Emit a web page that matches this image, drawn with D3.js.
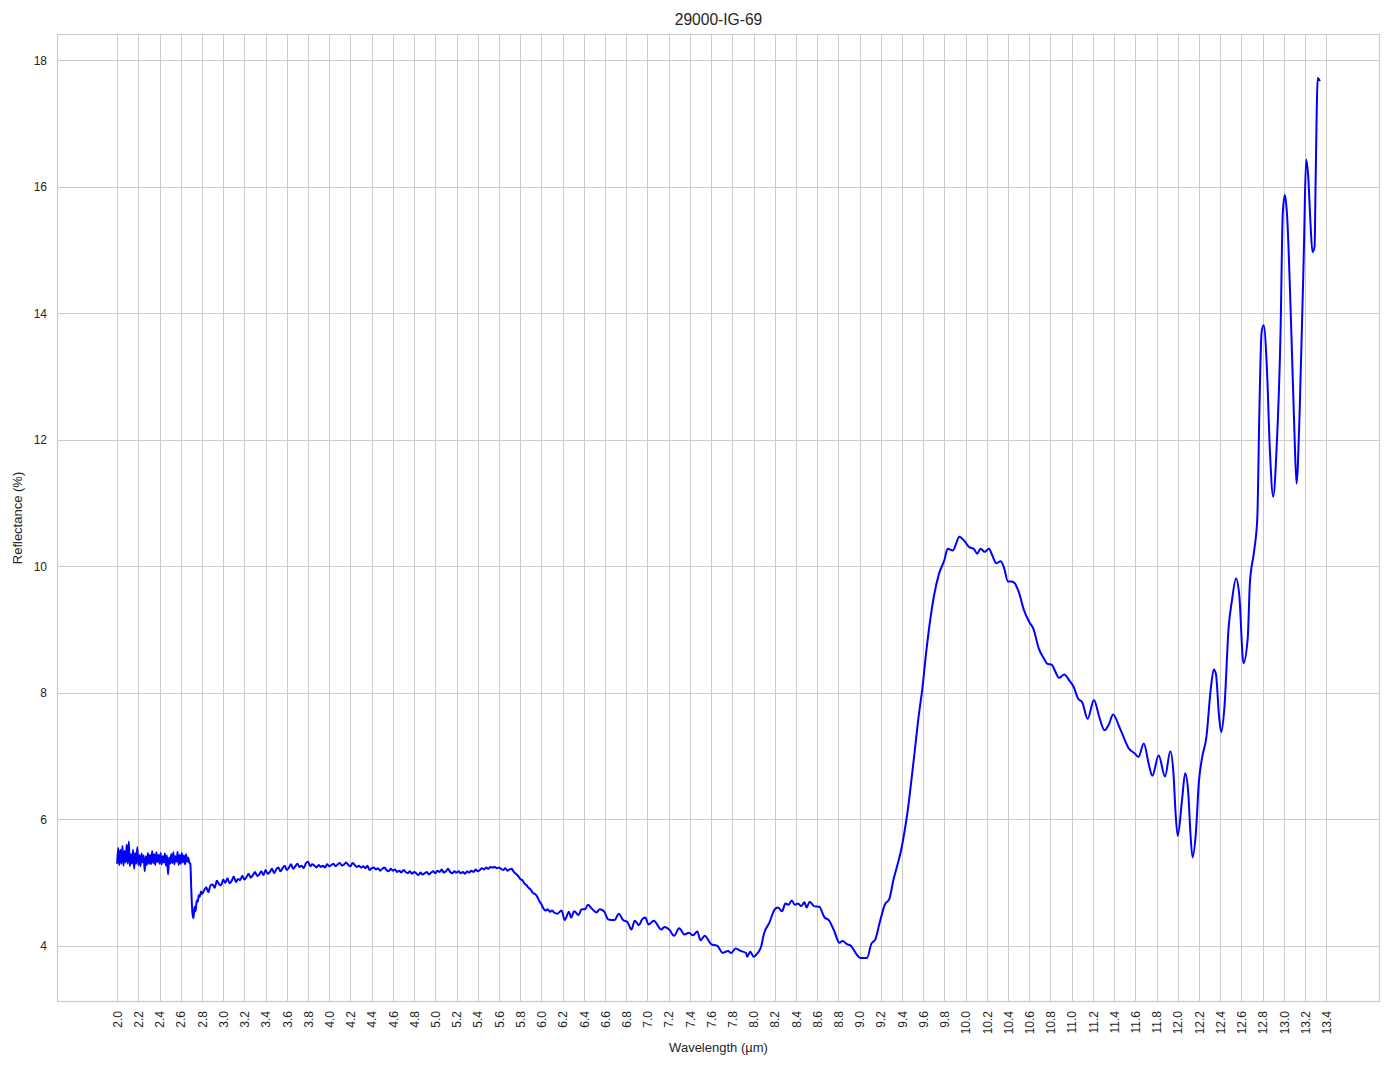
<!DOCTYPE html>
<html><head><meta charset="utf-8">
<script src="https://cdn.jsdelivr.net/npm/d3@7"></script>
<style>
body{margin:0;background:#fff}
svg{display:block}
text{font-family:"Liberation Sans",Arial,sans-serif;fill:#262626}
</style>
</head><body>
<svg id="chart" width="1394" height="1069"></svg>
<script>
const chartTitle = "29000-IG-69";
const xLabel = "Wavelength (µm)";
const yLabel = "Reflectance (%)";

const xTicks = [2.0,2.2,2.4,2.6,2.8,3.0,3.2,3.4,3.6,3.8,4.0,4.2,4.4,4.6,4.8,5.0,5.2,5.4,5.6,5.8,6.0,6.2,6.4,6.6,6.8,7.0,7.2,7.4,7.6,7.8,8.0,8.2,8.4,8.6,8.8,9.0,9.2,9.4,9.6,9.8,10.0,10.2,10.4,10.6,10.8,11.0,11.2,11.4,11.6,11.8,12.0,12.2,12.4,12.6,12.8,13.0,13.2,13.4];
const yTicks = [4,6,8,10,12,14,16,18];

const wavelength = [
2.00,2.01,2.02,2.03,2.04,2.05,2.06,2.07,2.08,2.09,2.10,2.11,2.12,2.13,2.14,2.15,2.16,2.17,2.18,2.19,
2.20,2.21,2.22,2.23,2.24,2.25,2.26,2.27,2.28,2.29,2.30,2.31,2.32,2.33,2.34,2.35,2.36,2.37,2.38,2.39,
2.40,2.41,2.42,2.43,2.44,2.45,2.46,2.47,2.48,2.49,2.50,2.51,2.52,2.53,2.54,2.55,2.56,2.57,2.58,2.59,
2.60,2.61,2.62,2.63,2.64,2.65,2.66,2.67,2.68,2.69,2.70,2.71,2.72,2.73,2.74,2.75,2.76,2.77,2.78,2.79,2.80,
2.82,2.84,2.86,2.88,2.90,2.92,2.94,2.96,2.98,3.00,3.02,3.04,3.06,3.08,3.10,3.12,3.14,3.16,3.18,3.20,
3.22,3.24,3.26,3.28,3.30,3.32,3.34,3.36,3.38,3.40,3.42,3.44,3.46,3.48,3.50,3.52,3.54,3.56,3.58,3.60,
3.62,3.64,3.66,3.68,3.70,3.72,3.74,3.76,3.78,3.80,3.82,3.84,3.86,3.88,3.90,3.92,3.94,3.96,3.98,4.00,
4.02,4.04,4.06,4.08,4.10,4.12,4.14,4.16,4.18,4.20,4.22,4.24,4.26,4.28,4.30,4.32,4.34,4.36,4.38,4.40,
4.42,4.44,4.46,4.48,4.50,4.52,4.54,4.56,4.58,4.60,4.62,4.64,4.66,4.68,4.70,4.72,4.74,4.76,4.78,4.80,
4.82,4.84,4.86,4.88,4.90,4.92,4.94,4.96,4.98,5.00,5.02,5.04,5.06,5.08,5.10,5.12,5.14,5.16,5.18,5.20,
5.22,5.24,5.26,5.28,5.30,5.32,5.34,5.36,5.38,5.40,5.42,5.44,5.46,5.48,5.50,5.52,5.54,5.56,5.58,5.60,
5.62,5.64,5.66,5.68,5.70,5.72,5.74,5.76,5.78,5.80,5.82,5.84,5.86,5.88,5.90,5.92,5.94,5.96,5.98,6.00,
6.02,6.04,6.06,6.08,6.10,6.12,6.15,6.19,6.22,6.26,6.28,6.31,6.35,6.38,6.41,6.44,6.47,6.52,6.55,6.59,
6.63,6.69,6.73,6.77,6.81,6.85,6.88,6.92,6.95,6.98,7.01,7.06,7.13,7.16,7.21,7.25,7.30,7.35,7.39,7.43,
7.47,7.50,7.54,7.60,7.66,7.71,7.76,7.79,7.83,7.88,7.93,7.94,7.97,8.00,8.04,8.07,8.10,8.15,8.20,8.23,
8.27,8.30,8.33,8.36,8.39,8.42,8.45,8.48,8.50,8.53,8.57,8.62,8.67,8.71,8.76,8.81,8.84,8.88,8.92,8.97,
9.01,9.04,9.07,9.11,9.15,9.19,9.24,9.28,9.32,9.36,9.39,9.42,9.45,9.51,9.56,9.59,9.63,9.67,9.70,9.75,
9.80,9.83,9.88,9.91,9.94,9.99,10.03,10.08,10.11,10.14,10.18,10.22,10.25,10.29,10.33,10.36,10.40,10.43,10.46,10.50,
10.55,10.60,10.64,10.69,10.74,10.77,10.81,10.84,10.88,10.93,10.98,11.02,11.06,11.10,11.15,11.21,11.26,11.31,11.35,11.39,
11.45,11.49,11.54,11.59,11.63,11.68,11.73,11.76,11.82,11.88,11.93,11.96,11.98,12.00,12.04,12.07,12.10,12.12,12.14,12.17,
12.20,12.23,12.27,12.31,12.34,12.36,12.39,12.41,12.44,12.48,12.51,12.55,12.58,12.62,12.66,12.68,12.72,12.75,12.77,12.79,
12.81,12.84,12.87,12.90,12.93,12.97,12.99,13.01,13.03,13.07,13.10,13.12,13.15,13.19,13.21,13.23,13.25,13.27,13.29,13.30,
13.32,13.34
];

const reflectance = [
5.30,5.55,5.28,5.52,5.30,5.58,5.27,5.50,5.32,5.60,5.30,5.65,5.26,5.45,5.30,5.52,5.22,5.47,5.30,5.56,
5.28,5.44,5.26,5.46,5.32,5.43,5.18,5.42,5.28,5.47,5.30,5.44,5.29,5.50,5.31,5.45,5.28,5.48,5.33,5.44,
5.30,5.47,5.29,5.42,5.32,5.46,5.27,5.43,5.13,5.40,5.30,5.45,5.31,5.48,5.29,5.42,5.33,5.49,5.28,5.44,
5.30,5.47,5.32,5.43,5.29,5.45,5.33,5.40,5.32,5.30,4.85,4.52,4.44,4.62,4.55,4.72,4.70,4.80,4.78,4.86,4.82,
4.88,4.93,4.85,4.96,4.97,4.92,5.03,4.98,4.96,5.05,5.00,5.07,4.99,5.03,5.10,5.01,5.06,5.04,5.11,5.05,
5.09,5.14,5.08,5.12,5.17,5.11,5.13,5.18,5.12,5.20,5.14,5.17,5.22,5.15,5.21,5.24,5.18,5.23,5.27,5.20,
5.24,5.29,5.22,5.26,5.30,5.25,5.27,5.23,5.31,5.33,5.26,5.29,5.27,5.24,5.28,5.25,5.27,5.24,5.29,5.26,
5.28,5.30,5.26,5.29,5.31,5.27,5.29,5.32,5.28,5.26,5.31,5.28,5.25,5.27,5.24,5.26,5.23,5.27,5.20,5.23,
5.24,5.21,5.23,5.19,5.22,5.24,5.20,5.18,5.22,5.19,5.21,5.17,5.19,5.16,5.20,5.17,5.15,5.18,5.14,5.17,
5.15,5.12,5.16,5.13,5.15,5.17,5.13,5.16,5.18,5.15,5.19,5.17,5.21,5.16,5.18,5.22,5.17,5.15,5.18,5.16,
5.18,5.15,5.17,5.14,5.18,5.16,5.19,5.17,5.21,5.18,5.20,5.23,5.21,5.24,5.22,5.25,5.24,5.25,5.23,5.24,
5.22,5.20,5.23,5.19,5.21,5.22,5.17,5.14,5.11,5.06,5.04,4.99,4.96,4.92,4.89,4.84,4.82,4.78,4.71,4.66,
4.59,4.56,4.58,4.54,4.56,4.53,4.51,4.56,4.41,4.54,4.45,4.55,4.49,4.58,4.58,4.65,4.60,4.53,4.58,4.55,
4.42,4.41,4.51,4.41,4.38,4.26,4.40,4.33,4.42,4.45,4.34,4.40,4.26,4.30,4.25,4.16,4.28,4.18,4.21,4.17,
4.23,4.09,4.16,4.03,4.00,3.89,3.92,3.89,3.96,3.92,3.89,3.83,3.91,3.83,3.89,3.98,4.20,4.37,4.58,4.61,
4.55,4.67,4.65,4.72,4.65,4.67,4.63,4.69,4.61,4.70,4.63,4.62,4.45,4.41,4.24,4.05,4.08,4.03,4.00,3.87,
3.81,3.81,3.81,4.03,4.11,4.37,4.66,4.74,5.05,5.30,5.50,5.77,6.09,6.93,7.67,8.04,8.67,9.20,9.52,9.89,
10.10,10.28,10.25,10.36,10.47,10.40,10.31,10.27,10.20,10.28,10.23,10.28,10.18,10.05,10.08,9.99,9.76,9.76,9.74,9.60,
9.31,9.12,9.01,8.70,8.54,8.46,8.45,8.36,8.24,8.29,8.19,8.09,7.91,7.85,7.59,7.89,7.62,7.41,7.50,7.66,
7.46,7.30,7.12,7.05,6.99,7.20,6.85,6.69,7.01,6.68,7.08,6.72,6.09,5.74,6.30,6.73,6.40,5.77,5.40,5.77,
6.61,6.98,7.30,8.04,8.37,8.30,7.62,7.38,7.77,9.04,9.45,9.81,9.55,8.47,8.87,9.73,10.24,10.76,12.48,13.69,
13.81,13.16,11.79,11.10,11.79,13.76,15.57,15.87,15.57,13.76,12.13,11.31,12.48,15.05,16.43,16.17,15.48,14.97,15.05,16.09,
17.72,17.67
];

const W = 1394, H = 1069;
const plot = {left: 57, right: 1380, top: 34, bottom: 1002};

const svg = d3.select("#chart");
svg.append("rect").attr("width", W).attr("height", H).attr("fill", "#fff");

const data = wavelength.map((w, i) => ({x: w, y: reflectance[i]}));

const xExt = d3.extent(wavelength), yExt = d3.extent(reflectance);
const xPad = (xExt[1] - xExt[0]) * 0.05, yPad = (yExt[1] - yExt[0]) * 0.05;
const x = d3.scaleLinear().domain([xExt[0] - xPad, xExt[1] + xPad]).range([plot.left, plot.right]);
const y = d3.scaleLinear().domain([yExt[0] - yPad, yExt[1] + yPad]).range([plot.bottom, plot.top]);

// grid
const grid = svg.append("g").attr("stroke", "#cccccc").attr("stroke-width", 1);
grid.selectAll("line.v").data(xTicks).join("line")
  .attr("x1", d => Math.round(x(d)) + 0.5).attr("x2", d => Math.round(x(d)) + 0.5)
  .attr("y1", plot.top).attr("y2", plot.bottom);
grid.selectAll("line.h").data(yTicks).join("line")
  .attr("y1", d => Math.round(y(d)) + 0.5).attr("y2", d => Math.round(y(d)) + 0.5)
  .attr("x1", plot.left).attr("x2", plot.right);

// frame
svg.append("rect")
  .attr("x", plot.left + 0.5).attr("y", plot.top + 0.5)
  .attr("width", plot.right - plot.left - 1).attr("height", plot.bottom - plot.top - 1)
  .attr("fill", "none").attr("stroke", "#cccccc").attr("stroke-width", 1.2);

// axes (labels only, via d3 axis)
const xAxis = d3.axisBottom(x).tickValues(xTicks).tickFormat(d3.format(".1f")).tickSize(0).tickPadding(0);
const gx = svg.append("g").attr("transform", `translate(0,${plot.bottom})`).call(xAxis);
gx.select(".domain").remove();
gx.selectAll("text")
  .attr("font-size", 12).attr("fill", "#262626")
  .attr("font-family", '"Liberation Sans",Arial,sans-serif')
  .attr("text-anchor", "end")
  .attr("transform", "rotate(-90)")
  .attr("x", -9).attr("y", 0).attr("dy", "0.35em");

const yAxis = d3.axisLeft(y).tickValues(yTicks).tickFormat(d3.format("d")).tickSize(0).tickPadding(10);
const gy = svg.append("g").attr("transform", `translate(${plot.left},0)`).call(yAxis);
gy.select(".domain").remove();
gy.selectAll("text").attr("font-size", 12).attr("fill", "#262626")
  .attr("font-family", '"Liberation Sans",Arial,sans-serif');

// line
const line = d3.line().x(d => x(d.x)).y(d => y(d.y)).curve(d3.curveMonotoneX);
svg.append("path").datum(data)
  .attr("d", line).attr("fill", "none")
  .attr("stroke", "#0000ff").attr("stroke-width", 2).attr("stroke-linejoin", "round");

// title and labels
const cx = (plot.left + plot.right) / 2, cy = (plot.top + plot.bottom) / 2;
svg.append("text").attr("x", cx).attr("y", 25).attr("text-anchor", "middle")
  .attr("font-size", 15.6).text(chartTitle);
svg.append("text").attr("x", cx).attr("y", 1052).attr("text-anchor", "middle")
  .attr("font-size", 13).text(xLabel);
svg.append("text").attr("transform", `translate(22,${cy}) rotate(-90)`).attr("text-anchor", "middle")
  .attr("font-size", 13).text(yLabel);
</script>
</body></html>
